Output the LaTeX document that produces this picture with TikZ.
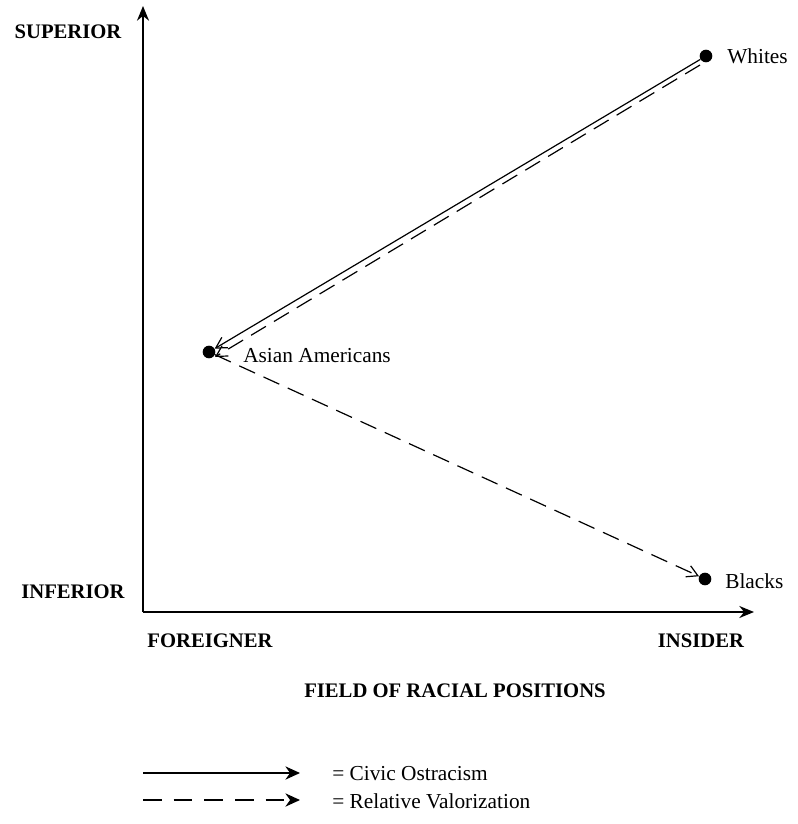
\documentclass[tikz,border=0pt]{standalone}
\usepackage{fontspec}
\setmainfont{Liberation Serif}
\usetikzlibrary{arrows.meta}

\tikzset{
  lbl/.style={font=\fontsize{16}{18}\selectfont, inner sep=0pt},
  blbl/.style={font=\fontsize{15.5}{18}\selectfont\bfseries, inner sep=0pt},
  groupdot/.style={circle, fill=black, inner sep=0pt, minimum size=9.5pt},
  civic/.style={line width=0.9pt, -{Straight Barb[length=8pt,width=9pt,line width=0.9pt]}},
  valor/.style={line width=0.9pt, dash pattern=on 13pt off 7pt,
    -{Straight Barb[length=8pt,width=9pt,line width=0.9pt]}},
  axis/.style={line width=1.3pt, -{Stealth[length=11pt,width=9pt]}}
}

\begin{document}
\begin{tikzpicture}[x=0.75pt,y=-0.75pt]

\useasboundingbox
(0,0)
rectangle
(798,824);

% Axes
\coordinate (origin) at (143,612);
\coordinate (ytop) at (143,6);
\coordinate (xend) at (754,612);
\draw[axis]
(origin)
--
(ytop);
\draw[axis]
(origin)
--
(xend);

\node[blbl] (superior) at (68,32) {SUPERIOR};
\node[blbl] (inferior) at (73,592) {INFERIOR};
\node[blbl] (foreigner) at (210,641) {FOREIGNER};
\node[blbl] (insider) at (701,641) {INSIDER};
\node[blbl] (field) at (455,691) {FIELD OF RACIAL POSITIONS};

% Groupes
\node[groupdot] (whites) at (706,56) {};
\node[groupdot] (asian) at (209,352) {};
\node[groupdot] (blacks) at (705,579) {};

\node[lbl, anchor=west] (whiteslbl) at (727,56) {Whites};
\node[lbl, anchor=west] (asianlbl) at (243,356) {Asian Americans};
\node[lbl, anchor=west] (blackslbl) at (725,581) {Blacks};

% Civic Ostracism
\draw[civic]
(whites)
--
(asian);

% Relative Valorization
\coordinate (wd) at (700,65);
\coordinate (ad) at (215,357);
\draw[valor]
(wd)
--
(ad);

\draw[valor]
(asian)
--
(blacks);

% Legende
\coordinate (l1a) at (143,773);
\coordinate (l1b) at (300,773);
\coordinate (l2a) at (143,800);
\coordinate (l2b) at (300,800);
\draw[line width=0.9pt, -{Stealth[length=11pt,width=10pt]}]
(l1a)
--
(l1b);
\draw[line width=0.9pt, dash pattern=on 14pt off 9pt, -{Stealth[length=11pt,width=10pt]}]
(l2a)
--
(l2b);

\node[lbl, anchor=west] (civiclbl) at (332,774) {= Civic Ostracism};
\node[lbl, anchor=west] (valorlbl) at (332,801) {= Relative Valorization};

\end{tikzpicture}
\end{document}
